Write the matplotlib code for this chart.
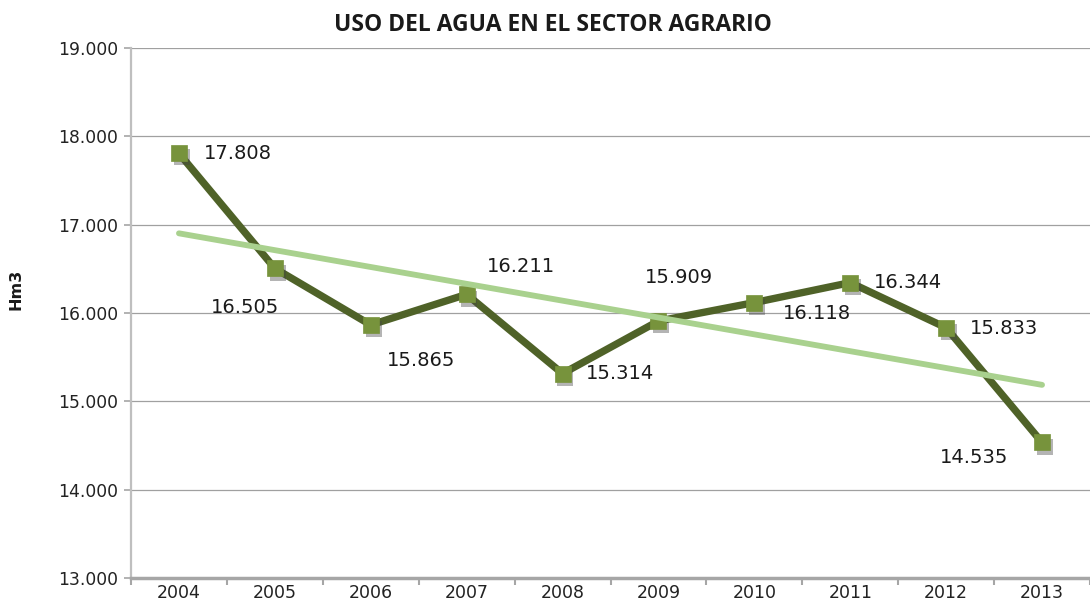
import matplotlib
matplotlib.use("Agg")
import matplotlib.pyplot as plt
import matplotlib.patheffects as pe
import numpy as np

years = ["2004", "2005", "2006", "2007", "2008", "2009", "2010", "2011", "2012", "2013"]
values = [17808, 16505, 15865, 16211, 15314, 15909, 16118, 16344, 15833, 14535]
label_offsets = [(59, 0), (-30, -39), (50, -36), (54, 28), (57, 0),
                 (20, 44), (63, -11), (58, 0), (58, -1), (-68, -15)]
yticks = [13000, 14000, 15000, 16000, 17000, 18000, 19000]

def fmt(v):
    return f"{v:,}".replace(",", ".")

fig = plt.figure(figsize=(10.9, 6.04), dpi=100)
ax = fig.add_axes([131/1090, 1-578/604, 1-131/1090, (578-48)/604])

x = np.arange(len(years))
ax.plot(x, values, color="#4f6228", lw=5.3, zorder=3, solid_capstyle="butt")
ax.plot(x, values, ls="none", marker="s", ms=11.5, mfc="#77933c", mec="#77933c", mew=0.5, zorder=4,
        path_effects=[pe.SimplePatchShadow(offset=(2, -3), shadow_rgbFace="#444444", alpha=0.4), pe.Normal()])

# linear trendline
coef = np.polyfit(x, values, 1)
ax.plot(x, np.polyval(coef, x), color="#a9d18e", lw=4.2, zorder=5, solid_capstyle="round")

for xi, v, off in zip(x, values, label_offsets):
    ax.annotate(fmt(v), (xi, v), xytext=off, textcoords="offset pixels",
                ha="center", va="center", fontsize=14, color="#1a1a1a", zorder=6)

ax.set_xlim(-0.5, len(years) - 0.5)
ax.set_ylim(13000, 19000)
ax.set_yticks(yticks)
ax.set_yticklabels([fmt(t) for t in yticks], fontsize=12.3, color="#222222")
ax.set_xticks(x)
ax.set_xticklabels(years, fontsize=12.5, color="#222222")
ax.set_xticks(np.arange(-0.5, len(years)), minor=True)
ax.tick_params(axis="x", which="major", length=0, pad=4)
ax.tick_params(axis="x", which="minor", length=5, color="#a6a6a6", width=1.5, direction="out")
ax.tick_params(axis="y", length=5, color="#a6a6a6", width=1.2, direction="out", pad=4)

ax.grid(axis="y", color="#a0a0a0", lw=0.9, zorder=0)
ax.set_axisbelow(True)
for s in ["top", "right"]:
    ax.spines[s].set_visible(False)
ax.spines["left"].set_color("#bfbfbf")
ax.spines["left"].set_linewidth(1.6)
ax.spines["bottom"].set_color("#a6a6a6")
ax.spines["bottom"].set_linewidth(2.5)

fig.text(553/1090, 1-25/604, "USO DEL AGUA EN EL SECTOR AGRARIO", ha="center", va="center",
         fontsize=16.5, fontweight="bold", color="#1a1a1a", family="Open Sans")
fig.text(16/1090, 1-289/604, "Hm3", rotation=90, ha="center", va="center",
         fontsize=11.5, fontweight="bold", color="#1a1a1a")

fig.savefig("out.png", dpi=100)
